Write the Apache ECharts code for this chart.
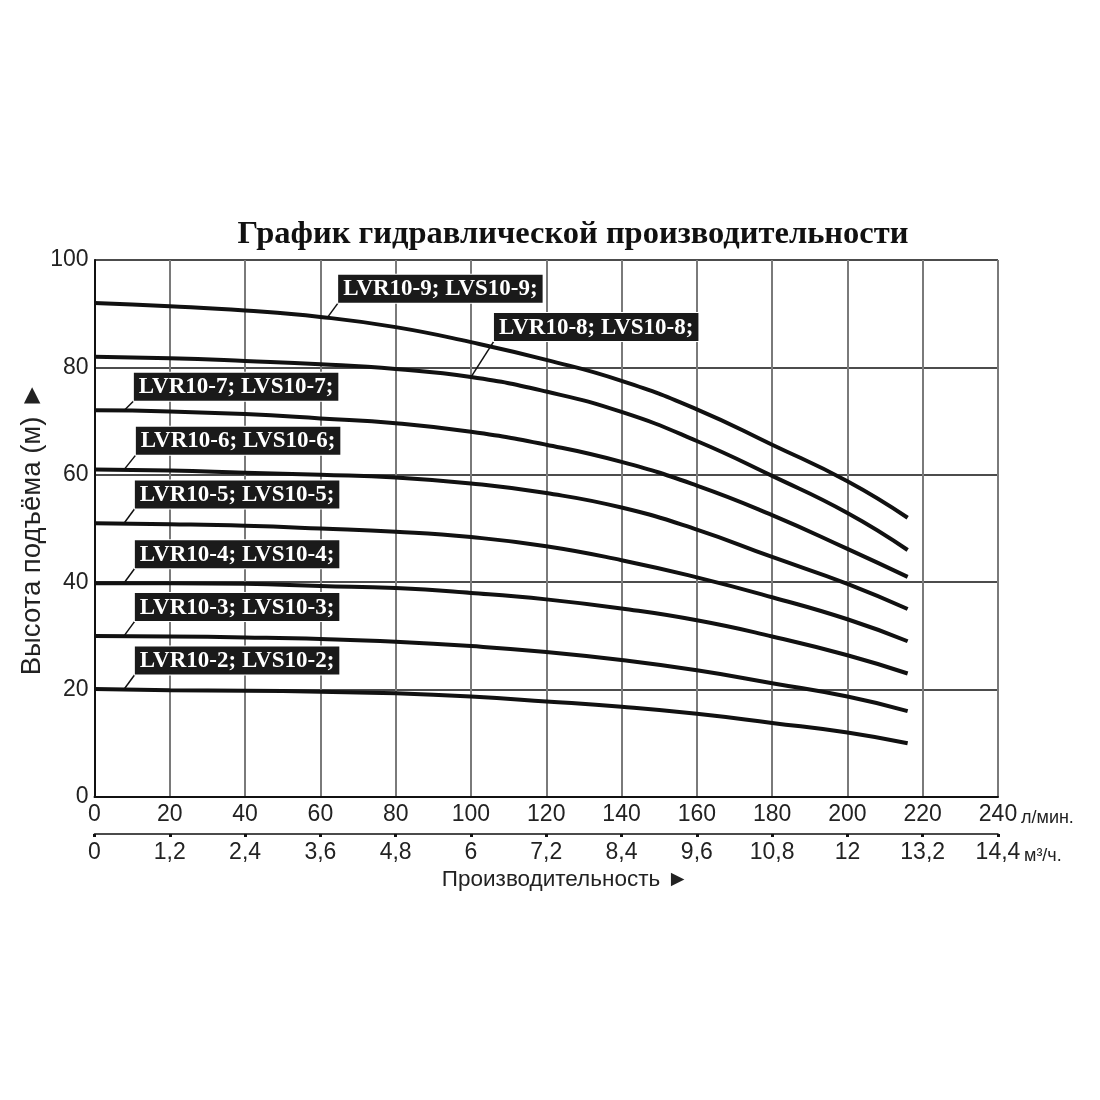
<!DOCTYPE html>
<html>
<head>
<meta charset="utf-8">
<script src="https://cdn.jsdelivr.net/npm/echarts@6/dist/echarts.min.js"></script>
<style>
  html, body { margin: 0; padding: 0; background: #fff; }
  #chart { width: 1100px; height: 1100px; }
</style>
</head>
<body>
<div id="chart"></div>
<script>
// flow, l/min
var flow = [0, 20, 40, 60, 80, 100, 120, 140, 160, 180, 200, 216];

// head, m
var head2 = [20.1, 19.9, 19.8, 19.6, 19.3, 18.7, 17.8, 16.8, 15.5, 13.8, 12.0, 10];
var head3 = [30, 29.9, 29.7, 29.4, 28.9, 28.1, 27.0, 25.5, 23.6, 21.2, 18.7, 16];
var head4 = [39.8, 39.8, 39.7, 39.3, 38.9, 38.0, 36.8, 35.1, 32.9, 29.9, 26.4, 23];
var head5 = [51, 50.8, 50.5, 50.0, 49.4, 48.4, 46.7, 44.1, 40.9, 37.2, 33.1, 29];
var head6 = [61, 60.8, 60.4, 60.0, 59.5, 58.4, 56.6, 53.9, 49.8, 44.7, 39.7, 35];
var head7 = [72, 71.8, 71.3, 70.5, 69.6, 68.0, 65.6, 62.4, 58.0, 52.5, 46.2, 41];
var head8 = [82, 81.7, 81.2, 80.6, 79.7, 78.2, 75.5, 71.7, 66.3, 59.8, 52.9, 46];
var head9 = [92, 91.4, 90.6, 89.4, 87.5, 84.7, 81.4, 77.5, 72.2, 65.6, 58.8, 52];

var curveNames = [
    'LVR10-2; LVS10-2;', 'LVR10-3; LVS10-3;', 'LVR10-4; LVS10-4;', 'LVR10-5; LVS10-5;',
    'LVR10-6; LVS10-6;', 'LVR10-7; LVS10-7;', 'LVR10-8; LVS10-8;', 'LVR10-9; LVS10-9;'
];
var curves = [head2, head3, head4, head5, head6, head7, head8, head9];

// tick labels
var flowLmin = [0, 20, 40, 60, 80, 100, 120, 140, 160, 180, 200, 220, 240];
var flowM3 = ['0', '1,2', '2,4', '3,6', '4,8', '6', '7,2', '8,4', '9,6', '10,8', '12', '13,2', '14,4'];

// where the leader of each label touches its curve (flow value) and box offset in px
var labelTipX = [7.8, 7.8, 7.8, 7.8, 7.8, 7.8, 100, 61.8];
var labelDx   = [11, 11, 11, 11, 12, 10, 23, 11];
var labelDy   = [-15, -15, -15, -15, -15, -10, -36, -15];

var chart = echarts.init(document.getElementById('chart'));

var series = curves.map(function (h, i) {
    return {
        name: curveNames[i],
        type: 'line',
        smooth: 0.5,
        symbol: 'none',
        lineStyle: { color: '#111', width: 4 },
        data: flow.map(function (f, k) { return [f, h[k]]; }),
        z: 5
    };
});

var tickFont = { fontFamily: 'Liberation Sans', fontSize: 23, color: '#222' };

var option = {
    animation: false,
    backgroundColor: '#fff',
    title: {
        text: 'График гидравлической производительности',
        left: 568,
        top: 213,
        textAlign: 'center',
        textStyle: {
            fontFamily: 'Liberation Serif',
            fontWeight: 'bold',
            fontSize: 32.5,
            color: '#111'
        }
    },
    grid: { left: 94.5, right: 102, top: 260, bottom: 303 },
    xAxis: [
        {
            type: 'value',
            min: 0,
            max: 240,
            interval: 20,
            position: 'bottom',
            axisLine: { lineStyle: { color: '#111', width: 2 } },
            axisTick: { show: false },
            splitLine: { show: true, lineStyle: { color: '#7a7a7a', width: 2 } },
            axisLabel: Object.assign({
                margin: 6,
                formatter: function (v) { return flowLmin[Math.round(v / 20)]; }
            }, tickFont)
        },
        {
            type: 'value',
            min: 0,
            max: 240,
            interval: 20,
            position: 'bottom',
            offset: 37,
            name: 'Производительность ►',
            nameLocation: 'middle',
            nameGap: 34,
            nameTextStyle: {
                fontFamily: 'Liberation Sans',
                fontSize: 22.5,
                color: '#222',
                padding: [0, 0, 0, 38]
            },
            axisLine: { show: true, lineStyle: { color: '#111', width: 1.5 } },
            axisTick: { show: true, length: 3, lineStyle: { color: '#111', width: 3 } },
            splitLine: { show: false },
            axisLabel: Object.assign({
                margin: 7,
                formatter: function (v) { return flowM3[Math.round(v / 20)]; }
            }, tickFont)
        }
    ],
    yAxis: {
        type: 'value',
        min: 0,
        max: 100,
        interval: 20,
        name: 'Высота подъёма (м) ►',
        nameLocation: 'middle',
        nameRotate: 90,
        nameGap: 48,
        nameMoveOverlap: false,
        nameTextStyle: {
            fontFamily: 'Liberation Sans',
            fontSize: 27.5,
            color: '#222'
        },
        axisLine: { show: true, lineStyle: { color: '#111', width: 2 } },
        axisTick: { show: false },
        splitLine: { show: true, lineStyle: { color: '#111', width: 1.5 } },
        axisLabel: Object.assign({ margin: 6 }, tickFont)
    },
    series: series
};

chart.setOption(option);

// curve labels with leaders
function headAt(h, x) {
    for (var k = 1; k < flow.length; k++) {
        if (x <= flow[k]) {
            var t = (x - flow[k - 1]) / (flow[k] - flow[k - 1]);
            return h[k - 1] + t * (h[k] - h[k - 1]);
        }
    }
    return h[h.length - 1];
}

var graphics = [];
curves.forEach(function (h, i) {
    var tip = chart.convertToPixel({ seriesIndex: i }, [labelTipX[i], headAt(h, labelTipX[i])]);
    var cx = tip[0] + labelDx[i];
    var cy = tip[1] + labelDy[i];
    graphics.push({
        type: 'line',
        shape: { x1: tip[0], y1: tip[1], x2: cx, y2: cy },
        style: { stroke: '#111', lineWidth: 1.5 },
        z: 10
    });
    graphics.push({
        type: 'text',
        x: cx,
        y: cy,
        style: {
            text: curveNames[i],
            fill: '#fff',
            font: 'bold 23px "Liberation Serif"',
            align: 'left',
            verticalAlign: 'bottom',
            backgroundColor: '#1a1a1a',
            padding: [3, 5, 2, 5],
            borderColor: '#fff',
            borderWidth: 1
        },
        z: 11
    });
});

// units after the last tick labels
var end = chart.convertToPixel({ xAxisIndex: 0 }, 240);
graphics.push({
    type: 'text',
    x: end + 23,
    y: 818,
    style: { text: 'л/мин.', fill: '#222', font: '18px "Liberation Sans"', verticalAlign: 'middle' }
});
graphics.push({
    type: 'text',
    x: end + 26,
    y: 856,
    style: { text: 'м³/ч.', fill: '#222', font: '18px "Liberation Sans"', verticalAlign: 'middle' }
});

chart.setOption({ graphic: graphics });
</script>
</body>
</html>
